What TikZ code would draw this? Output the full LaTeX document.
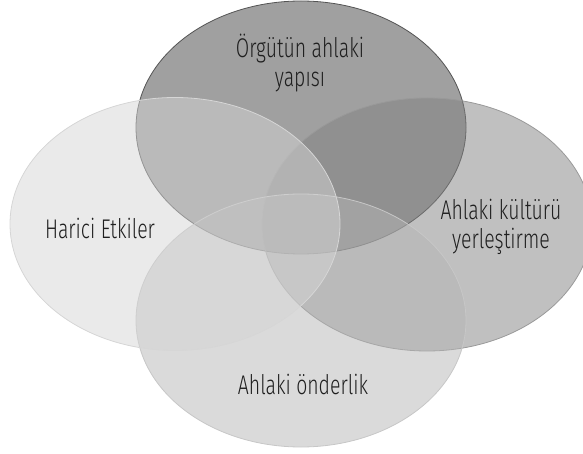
\documentclass[tikz,border=0pt]{standalone}
\usepackage{fontspec}
\setmainfont{Fira Sans Light}[FakeStretch=0.72]
\usetikzlibrary{shapes.geometric}
\definecolor{fillTop}{gray}{0.255}
\definecolor{fillRight}{gray}{0.506}
\definecolor{fillBottom}{gray}{0.71}
\definecolor{fillLeft}{gray}{0.835}
\definecolor{lineTop}{gray}{0.33}
\definecolor{lineRight}{gray}{0.6}
\definecolor{lineBottom}{gray}{0.78}
\definecolor{lineLeft}{gray}{0.84}
\definecolor{labeltext}{gray}{0.12}
\tikzset{
  vennset/.style={ellipse, inner sep=0pt, minimum width=330pt, minimum height=253pt,
    fill opacity=0.5, line width=0.8pt},
  venntext/.style={text=labeltext, align=center, font=\fontsize{27}{29}\selectfont}
}
\begin{document}
\begin{tikzpicture}[x=1pt,y=-1pt]
\useasboundingbox (0,0) rectangle (583,454);
% four overlapping sets, drawn clockwise from the top
\node[vennset, fill=fillTop, draw=lineTop] (top) at (301,127.5) {};
\node[vennset, fill=fillRight, draw=lineRight] (right) at (427,224.5) {};
\node[vennset, fill=fillBottom, draw=lineBottom] (bottom) at (301,320.5) {};
\node[vennset, fill=fillLeft, draw=lineLeft] (left) at (175,224) {};
% labels
\node[venntext] (ttop) at (300,63) {Örgütün ahlaki\\yapısı};
\node[venntext] (tright) at (501,227) {Ahlaki kültürü\\yerleştirme};
\node[venntext] (tleft) at (100,228) {Harici Etkiler};
\node[venntext] (tbottom) at (303,384) {Ahlaki önderlik};
\end{tikzpicture}
\end{document}
